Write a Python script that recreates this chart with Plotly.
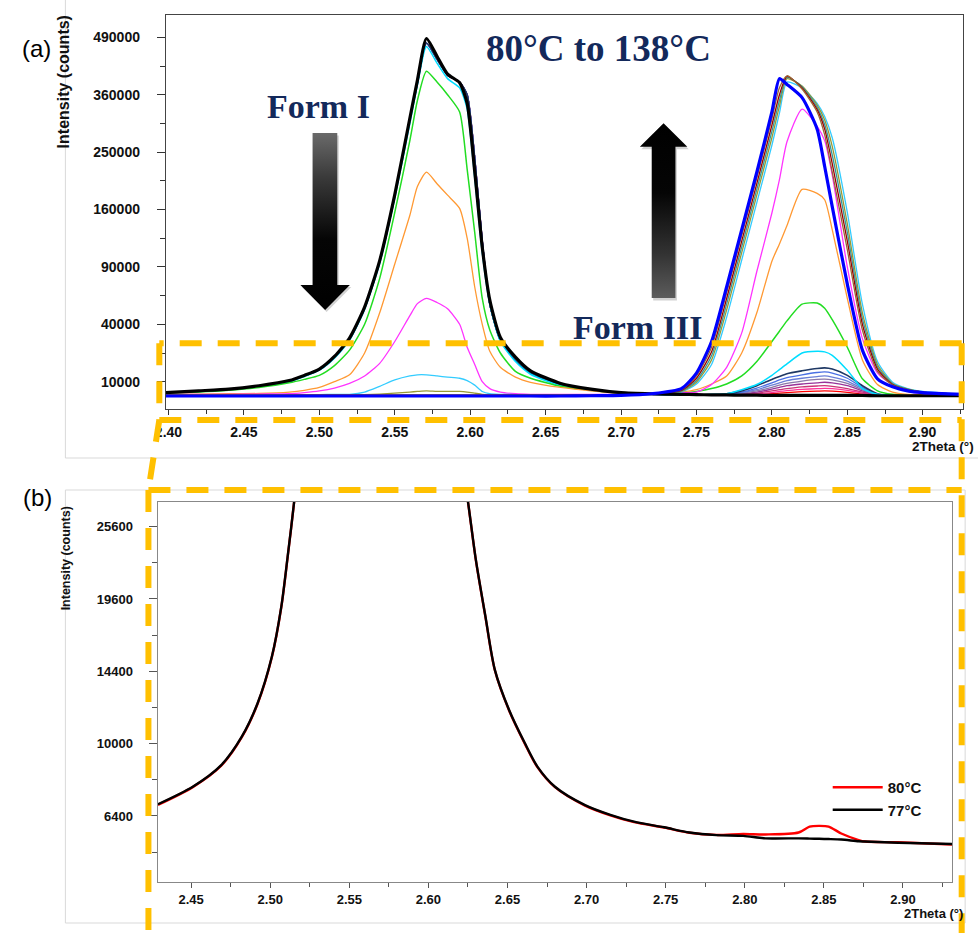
import base64
import numpy as np
import plotly.graph_objects as go

W, H = 978, 933

# ---------------- panel (a): 80 °C -> 138 °C scans (intensity in counts) ----------------
x_left = [2.398, 2.42, 2.44, 2.46, 2.48, 2.49, 2.50, 2.51, 2.52, 2.53, 2.54, 2.55, 2.56, 2.565,
          2.571, 2.578, 2.585, 2.593, 2.598, 2.603, 2.608, 2.613, 2.62, 2.63, 2.64, 2.66, 2.68]
x_right = [2.70, 2.72, 2.74, 2.75, 2.76, 2.77, 2.78, 2.79, 2.80, 2.805, 2.81, 2.82, 2.83, 2.835,
           2.84, 2.85, 2.86, 2.87, 2.88, 2.89, 2.90, 2.927]

# Form I region (x_left)
black_I = [6560, 7060, 7570, 8650, 10400, 12320, 14880, 20740, 30980, 52900, 96700, 181500, 312500, 390600,
           487200, 444900, 404500, 385600, 342200, 217200, 111600, 58560, 31330, 20450, 14160, 9410, 7570]
dark_I = [6480, 6970, 7480, 8460, 10200, 12100, 14640, 20160, 30280, 51980, 95480, 178900, 309100, 384400,
          476100, 438200, 402000, 386900, 360000, 240100, 119000, 55230, 29580, 19040, 13230, 9030, 7400]
cyan_I = [6400, 6890, 7400, 8280, 10000, 11880, 14400, 19880, 29580, 51080, 93640, 176400, 302500, 380700,
          467900, 429000, 394400, 374500, 330600, 207000, 105600, 55230, 28900, 18230, 12770, 8650, 7230]
green_I = [6400, 6720, 7230, 8100, 9600, 10820, 12320, 16380, 24030, 40000, 78400, 156000, 270400, 348100,
           410900, 386900, 360000, 324900, 220900, 129600, 60030, 36100, 22500, 13920, 11240, 8460, 7230]
orange_I = [6080, 6160, 6240, 6320, 6720, 7230, 8100, 10000, 12540, 22500, 48400, 93030, 152100, 193600,
            216200, 198000, 180600, 161600, 122500, 70230, 40000, 23410, 15630, 11660, 9800, 8100, 7060]
magenta_I = [6080, 6080, 6080, 6160, 6240, 6560, 7060, 7920, 9410, 12100, 17420, 28900, 46230, 55700,
             60030, 56640, 51530, 40000, 25600, 16900, 10000, 7740, 6720, 6240, 6080, 6080, 6080]
lblue_I = [5930, 5930, 5930, 5930, 5930, 5930, 6010, 6080, 6080, 6720, 8460, 10610, 12100, 12540,
           12540, 12100, 11660, 11240, 10400, 8840, 6890, 6240, 6080, 6010, 5930, 5930, 5930]
olive_I = [5930, 5930, 5930, 5930, 5930, 5930, 5930, 5930, 5930, 6010, 6160, 6400, 6720, 6890,
           7060, 6890, 6890, 6890, 6720, 6400, 6080, 5930, 5930, 5930, 5930, 5930, 5930]
flat_I = [5850, 5850, 5850, 5850, 5850, 5850, 5850, 5850, 5850, 5850, 5850, 5850, 5850, 5850,
          5850, 5850, 5850, 5850, 5850, 5850, 5850, 5850, 5850, 5850, 5850, 5850, 5850]
blue_I = [5630, 5630, 5630, 5630, 5630, 5630, 5630, 5630, 5630, 5630, 5630, 5630, 5630, 5630,
          5630, 5630, 5630, 5630, 5630, 5630, 5630, 5630, 5630, 5630, 5630, 5630, 5700]

# Form III region (x_right)
black_III = [6560, 6240, 6080, 6010, 5930, 5930, 5850, 5850, 5780, 5780, 5780, 5780, 5780, 5780, 5780, 5780, 5780, 5700, 5700, 5700, 5700, 5700]
s2_III = [6400, 6080, 5930, 5930, 5850, 5850, 5850, 6010, 6240, 6400, 6560, 6810, 6970, 7060, 6970, 6640, 6160, 5930, 5780, 5780, 5780, 5700]
s3_III = [6400, 6080, 5930, 5930, 5850, 5850, 5930, 6240, 6560, 6890, 7140, 7480, 7740, 7830, 7740, 7230, 6400, 5930, 5780, 5780, 5780, 5700]
s4_III = [6400, 6080, 5930, 5930, 5850, 5930, 6080, 6400, 7060, 7400, 7740, 8280, 8560, 8650, 8460, 7740, 6720, 5930, 5780, 5780, 5780, 5700]
s5_III = [6400, 6080, 5930, 5930, 5850, 5930, 6240, 6720, 7570, 8100, 8650, 9220, 9600, 9800, 9600, 8650, 7060, 5930, 5780, 5780, 5780, 5700]
s6_III = [6400, 6080, 5930, 5930, 5930, 5930, 6400, 7060, 8100, 8840, 9410, 10200, 10820, 10920, 10610, 9410, 7400, 5930, 5780, 5780, 5780, 5700]
s7_III = [6400, 6080, 5930, 5930, 5930, 6080, 6560, 7400, 8840, 9600, 10400, 11240, 11880, 12100, 11660, 10200, 7740, 6080, 5780, 5780, 5780, 5700]
s8_III = [6400, 6080, 5930, 5930, 5930, 6080, 6720, 7920, 9600, 10610, 11450, 12540, 13460, 13690, 13230, 11240, 8100, 6080, 5780, 5780, 5780, 5700]
s9_III = [6400, 6080, 5930, 5930, 5930, 6240, 7060, 8650, 10820, 11880, 13000, 14160, 15130, 15380, 14880, 12320, 8650, 6240, 5780, 5780, 5780, 5700]
cyan_III = [6400, 6080, 5930, 5930, 6080, 6240, 7400, 9030, 12320, 14640, 17160, 22500, 23410, 23100, 21320, 14400, 7740, 6080, 5850, 5780, 5780, 5700]
green_III = [6400, 6080, 6400, 6890, 7740, 9220, 12100, 18230, 28900, 35340, 42440, 55230, 56170, 51980, 43260, 25600, 11030, 7060, 6080, 5930, 5850, 5780]
orange_III = [6400, 6240, 6720, 7400, 9220, 12100, 22500, 48400, 96100, 115600, 138400, 189200, 183200, 173900, 133200, 60030, 19040, 9030, 6720, 6080, 5930, 5780]
magenta_III = [6080, 6080, 6560, 6720, 9030, 15630, 34230, 85260, 155200, 204300, 268300, 330600, 297000, 270400, 211600, 90000, 30630, 13230, 9030, 6890, 6240, 5930]
lcyan_III = [5930, 6080, 6720, 9220, 16900, 44940, 97340, 169700, 262100, 322600, 386900, 374500, 342200, 315800, 275600, 156000, 55230, 18230, 9800, 7740, 6890, 6080]
olive_III = [5930, 6240, 6890, 9800, 19040, 50630, 105600, 180600, 275600, 336400, 394400, 378200, 338700, 309100, 260100, 140600, 48400, 16900, 9410, 7570, 6720, 6080]
teal_III = [5930, 6240, 7060, 10400, 21030, 55230, 112200, 189200, 287300, 348100, 396900, 377000, 334100, 300300, 245000, 129600, 44100, 15880, 9220, 7570, 6720, 6080]
dkred_III = [5930, 6240, 7230, 11240, 23100, 60030, 119000, 198000, 299200, 360000, 399400, 374500, 329500, 291600, 230400, 119000, 40000, 14880, 9030, 7400, 6720, 6080]
brown_III = [5930, 6240, 7400, 12100, 25600, 65030, 126000, 207000, 311400, 374500, 400700, 372100, 324900, 280900, 216200, 108900, 36100, 13920, 8840, 7400, 6720, 6080]
blue_III = [5780, 6240, 7740, 13230, 28900, 70230, 133200, 216200, 324900, 394400, 381900, 354000, 291600, 225600, 164000, 72900, 24030, 11030, 8280, 7060, 6560, 6080]

# scan order: (name, Form I list, Form III list, colour, width)
scans_a = [
    ("80°C", black_I, black_III, "#000000", 3.2),
    ("scan 2", dark_I, s2_III, "#FF0000", 1.3),
    ("scan 3", dark_I, s3_III, "#FF3399", 1.3),
    ("scan 4", dark_I, s4_III, "#CC3377", 1.3),
    ("scan 5", dark_I, s5_III, "#993399", 1.3),
    ("scan 6", dark_I, s6_III, "#8A78A8", 1.3),
    ("scan 7", dark_I, s7_III, "#6B7FD7", 1.3),
    ("scan 8", dark_I, s8_III, "#4A6FE3", 1.3),
    ("scan 9", dark_I, s9_III, "#1F3864", 1.6),
    ("scan 10", cyan_I, cyan_III, "#00DDFF", 1.5),
    ("scan 11", green_I, green_III, "#22DD22", 1.5),
    ("scan 12", orange_I, orange_III, "#FF9933", 1.3),
    ("scan 13", magenta_I, magenta_III, "#FF33FF", 1.3),
    ("scan 14", lblue_I, lcyan_III, "#33CCFF", 1.3),
    ("scan 15", olive_I, olive_III, "#999933", 1.3),
    ("scan 16", flat_I, teal_III, "#339999", 1.3),
    ("scan 17", flat_I, dkred_III, "#990000", 1.3),
    ("scan 18", flat_I, brown_III, "#996633", 1.3),
    ("138°C", blue_I, blue_III, "#0000FF", 3.2),
]

# ---------------- panel (b): 77 °C vs 80 °C ----------------
x_b = [2.429, 2.451, 2.469, 2.482, 2.492, 2.501, 2.507, 2.511, 2.515, 2.52, 2.55, 2.571, 2.60, 2.62,
       2.625, 2.630, 2.636, 2.642, 2.651, 2.661, 2.669, 2.680, 2.699, 2.715, 2.730, 2.749, 2.765, 2.782,
       2.799, 2.813, 2.834, 2.841, 2.847, 2.853, 2.861, 2.872, 2.876, 2.897, 2.931]
y_77 = [6930, 7760, 8850, 10390, 12360, 15380, 19010, 23010, 27720, 35000, 180000, 487000, 340000, 32800,
        27860, 22740, 18300, 14500, 11950, 10020, 8760, 7760, 6890, 6450, 6150, 5910, 5690, 5580,
        5550, 5450, 5450, 5440, 5430, 5420, 5400, 5330, 5320, 5270, 5220]
y_80 = [6900, 7740, 8820, 10360, 12330, 15350, 18980, 22980, 27700, 35000, 180000, 487000, 340000, 32800,
        27830, 22700, 18260, 14470, 11920, 9990, 8730, 7740, 6870, 6430, 6130, 5900, 5680, 5590,
        5630, 5610, 5690, 5940, 5970, 5940, 5650, 5380, 5320, 5290, 5200]

# tick labels (square-root intensity axes)
ticks_a = [10000, 40000, 90000, 160000, 250000, 360000, 490000]
minor_a = [22500, 62500, 122500, 202500, 302500, 422500]
ticks_b = [6400, 10000, 14400, 19600, 25600]
minor_b = [4900, 8100, 12100, 16900, 22500]
xt_a = [2.40, 2.45, 2.50, 2.55, 2.60, 2.65, 2.70, 2.75, 2.80, 2.85, 2.90]
xt_b = [2.45, 2.50, 2.55, 2.60, 2.65, 2.70, 2.75, 2.80, 2.85, 2.90]


def PX(x):
    return x / W


def PY(y):
    return 1 - y / H


fig = go.Figure()

x_a = np.array(x_left + x_right)
draw_order = list(range(1, 18)) + [0, 18]
for i in draw_order:
    name, fI, fIII, col, lw = scans_a[i]
    yy = np.sqrt(np.array(fI + fIII, dtype=float))
    fig.add_trace(go.Scatter(x=x_a, y=yy, mode="lines", name=name, showlegend=False,
                             line=dict(color=col, width=lw, shape="spline", smoothing=0.6),
                             xaxis="x", yaxis="y", hoverinfo="skip"))

fig.add_trace(go.Scatter(x=x_b, y=np.sqrt(np.array(y_80, float)), mode="lines", name="80°C",
                         line=dict(color="#FF0000", width=2.4, shape="spline", smoothing=0.8),
                         xaxis="x2", yaxis="y2"))
fig.add_trace(go.Scatter(x=x_b, y=np.sqrt(np.array(y_77, float)), mode="lines", name="77°C",
                         line=dict(color="#000000", width=2.4, shape="spline", smoothing=0.8),
                         xaxis="x2", yaxis="y2"))

tickfont_a = dict(family="Liberation Sans, Arial", size=14, color="#111", weight="bold")
tickfont_b = dict(family="Liberation Sans, Arial", size=13, color="#111", weight="bold")

fig.update_layout(
    width=W, height=H, margin=dict(l=0, r=0, t=0, b=0),
    paper_bgcolor="white", plot_bgcolor="white",
    xaxis=dict(domain=[PX(156.7), PX(963)], range=[2.3983, 2.9268], anchor="y",
               tickvals=xt_a, ticktext=[f"{v:.2f}" for v in xt_a], ticks="outside", ticklen=5,
               tickcolor="#333", showline=True, linecolor="#444", linewidth=1.3, mirror=True,
               showgrid=False, zeroline=False, tickfont=tickfont_a, ticklabelstandoff=5,
               minor=dict(tickvals=[v + 0.025 for v in xt_a], ticks="outside", ticklen=4, tickcolor="#333")),
    yaxis=dict(domain=[PY(409.3), PY(15)], range=[51.9, 738.9], anchor="x",
               tickvals=np.sqrt(ticks_a), ticktext=[str(v) for v in ticks_a], ticks="outside", ticklen=8,
               tickcolor="#333", showline=True, linecolor="#444", linewidth=1.3, mirror=True,
               showgrid=False, zeroline=False, tickfont=tickfont_a, ticklabelstandoff=14,
               minor=dict(tickvals=np.sqrt(minor_a), ticks="outside", ticklen=5, tickcolor="#333")),
    xaxis2=dict(domain=[PX(148.3), PX(951.7)], range=[2.4288, 2.931], anchor="y2",
                tickvals=xt_b, ticktext=[f"{v:.2f}" for v in xt_b], ticks="outside", ticklen=5,
                tickcolor="#555", showline=True, linecolor="#888", linewidth=1.2, mirror=True,
                showgrid=False, zeroline=False, tickfont=tickfont_b,
                minor=dict(tickvals=[v - 0.025 for v in xt_b] + [2.925], ticks="outside", ticklen=4,
                           tickcolor="#555")),
    yaxis2=dict(domain=[PY(882), PY(501.7)], range=[61.75, 166.9], anchor="x2",
                tickvals=np.sqrt(ticks_b), ticktext=[str(v) for v in ticks_b], ticks="outside", ticklen=8,
                tickcolor="#555", showline=True, linecolor="#888", linewidth=1.2, mirror=True,
                showgrid=False, zeroline=False, tickfont=tickfont_b, ticklabelstandoff=13,
                minor=dict(tickvals=np.sqrt(minor_b), ticks="outside", ticklen=5, tickcolor="#555")),
    legend=dict(x=PX(826), y=PY(771), xanchor="left", yanchor="top", bgcolor="rgba(0,0,0,0)",
                font=dict(family="Liberation Sans, Arial", size=15, color="#111", weight="bold"),
                itemwidth=50, tracegroupgap=0),
    showlegend=True,
)

# ---------------- decorations ----------------
ORANGE = "#FFC000"
DASH = "22px,16px"
shapes = []
grey = dict(color="#D9D9D9", width=1)
shapes.append(dict(type="line", xref="paper", yref="paper", x0=PX(55), y0=PY(0), x1=PX(55), y1=PY(458),
                   line=grey, layer="below"))
shapes.append(dict(type="line", xref="paper", yref="paper", x0=PX(55), y0=PY(458), x1=PX(978), y1=PY(458),
                   line=grey, layer="below"))
shapes.append(dict(type="rect", xref="paper", yref="paper", x0=PX(55), y0=PY(490), x1=PX(965), y1=PY(923),
                   line=grey, layer="below"))
for (xa, ya, xb, yb) in [(961.5, 343.3, 150, 343.3), (150, 343.3, 150, 420), (150, 420, 961.5, 420),
                         (150, 420, 139, 490), (961.5, 343.3, 961.5, 933), (139, 490, 961.5, 490),
                         (139, 490, 139, 933)]:
    shapes.append(dict(type="line", xref="paper", yref="paper", x0=PX(xa), y0=PY(ya), x1=PX(xb), y1=PY(yb),
                       line=dict(color=ORANGE, width=6, dash=DASH), layer="above"))
fig.update_layout(shapes=shapes)

NAVY = "#13295B"
serif = "Liberation Serif, Times New Roman, serif"
sans = "Liberation Sans, Arial"
ann = [
    dict(text="(a)", x=PX(26), y=PY(48), font=dict(family=sans, size=24, color="#000")),
    dict(text="(b)", x=PX(27), y=PY(497), font=dict(family=sans, size=24, color="#000")),
    dict(text="Intensity (counts)", x=PX(54), y=PY(82), textangle=-90,
         font=dict(family=sans, size=16, color="#111", weight="bold")),
    dict(text="Intensity (counts)", x=PX(56), y=PY(558), textangle=-90,
         font=dict(family=sans, size=12.5, color="#111", weight="bold")),
    dict(text="2Theta (°)", x=PX(943), y=PY(446), font=dict(family=sans, size=13.5, color="#111", weight="bold")),
    dict(text="2Theta (°)", x=PX(933), y=PY(913), font=dict(family=sans, size=13, color="#111", weight="bold")),
    dict(text="Form I", x=PX(311), y=PY(106), font=dict(family=serif, size=34, color=NAVY, weight="bold")),
    dict(text="80°C to 138°C", x=PX(594), y=PY(48), font=dict(family=serif, size=37, color=NAVY, weight="bold")),
    dict(text="Form III", x=PX(634), y=PY(327), font=dict(family=serif, size=34, color=NAVY, weight="bold")),
]
for a in ann:
    a.update(xref="paper", yref="paper", showarrow=False, xanchor="center", yanchor="middle")
fig.update_layout(annotations=ann)


def svg_uri(svg):
    return "data:image/svg+xml;base64," + base64.b64encode(svg.encode()).decode()


down_svg = ("<svg xmlns='http://www.w3.org/2000/svg' width='58' height='186' viewBox='0 0 58 186'>"
            "<defs><linearGradient id='g' gradientUnits='userSpaceOnUse' x1='0' y1='5' x2='0' y2='182'>"
            "<stop offset='0' stop-color='#6a6a6a'/><stop offset='0.25' stop-color='#3a3a3a'/>"
            "<stop offset='0.6' stop-color='#050505'/><stop offset='1' stop-color='#000'/></linearGradient></defs>"
            "<path d='M17.5,7.5 H42.5 V159 H55.2 L30.2,184 L5.2,159 H17.5 Z' fill='#000' fill-opacity='0.18'/>"
            "<path d='M16,5 H41 V157 H53.7 L28.7,182 L3.7,157 H16 Z' fill='url(#g)'/></svg>")
up_svg = ("<svg xmlns='http://www.w3.org/2000/svg' width='56' height='183' viewBox='0 0 56 183'>"
          "<defs><linearGradient id='g' gradientUnits='userSpaceOnUse' x1='0' y1='4' x2='0' y2='179'>"
          "<stop offset='0' stop-color='#000'/><stop offset='0.4' stop-color='#050505'/>"
          "<stop offset='0.75' stop-color='#333'/><stop offset='1' stop-color='#5c5c5c'/></linearGradient></defs>"
          "<path d='M28.5,6.8 L52.5,30.2 H40.5 V181.5 H16.5 V30.2 H4.5 Z' fill='#000' fill-opacity='0.18'/>"
          "<path d='M27,4.3 L51,27.7 H39 V179 H15 V27.7 H3 Z' fill='url(#g)'/></svg>")

fig.update_layout(images=[
    dict(source=svg_uri(down_svg), xref="paper", yref="paper", x=PX(289), y=PY(128),
         sizex=58 / W, sizey=186 / H, xanchor="left", yanchor="top", sizing="stretch", layer="above"),
    dict(source=svg_uri(up_svg), xref="paper", yref="paper", x=PX(633), y=PY(119),
         sizex=56 / W, sizey=183 / H, xanchor="left", yanchor="top", sizing="stretch", layer="above"),
])

fig.write_html("out.html")
